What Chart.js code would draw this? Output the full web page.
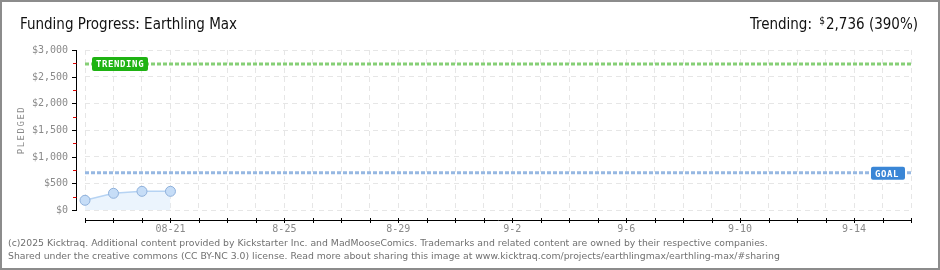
<!DOCTYPE html>
<html>
<head>
<meta charset="utf-8">
<script src="https://cdn.jsdelivr.net/npm/chart.js@4"></script>
<style>
  html, body { margin: 0; padding: 0; background: #fff; }
  #wrap { width: 940px; height: 270px; }
</style>
</head>
<body>
<div id="wrap"><canvas id="myChart" width="940" height="270"></canvas></div>
<script>
// donnees
const days = ['8-18', '8-19', '8-20', '8-21', '8-22', '8-23', '8-24', '8-25', '8-26', '8-27', '8-28',
  '8-29', '8-30', '8-31', '9-1', '9-2', '9-3', '9-4', '9-5', '9-6', '9-7', '9-8', '9-9', '9-10',
  '9-11', '9-12', '9-13', '9-14', '9-15', '9-16'];
const pledged = [182, 313, 350, 350];
const goal = 700;
const trending = 2736;
const yTicks = [0, 500, 1000, 1500, 2000, 2500, 3000];
const yTickLabels = ['$0', '$500', '$1,000', '$1,500', '$2,000', '$2,500', '$3,000'];
const yMinorTicks = [250, 750, 1250, 1750, 2250, 2750];
const xTickDays = ['8-21', '8-25', '8-29', '9-2', '9-6', '9-10', '9-14'];
const xTickLabels = ['08-21', '8-25', '8-29', '9-2', '9-6', '9-10', '9-14'];

const titleText = 'Funding Progress: Earthling Max';
const footer1 = '(c)2025 Kicktraq. Additional content provided by Kickstarter Inc. and MadMooseComics. Trademarks and related content are owned by their respective companies.';
const footer2 = 'Shared under the creative commons (CC BY-NC 3.0) license. Read more about sharing this image at www.kicktraq.com/projects/earthlingmax/earthling-max/#sharing';

const pixFont = '"DejaVu Sans Mono", monospace';

function dashedLine(ctx, area, y, color) {
    ctx.save();
    ctx.lineWidth = 3;
    ctx.strokeStyle = color;
    ctx.setLineDash([4, 2]);
    ctx.beginPath();
    ctx.moveTo(area.left, y);
    ctx.lineTo(area.right, y);
    ctx.stroke();
    ctx.restore();
}

function tagBox(ctx, x, y, w, h, bg, text) {
    ctx.save();
    ctx.fillStyle = bg;
    ctx.beginPath();
    ctx.roundRect(x, y, w, h, 2);
    ctx.fill();
    ctx.fillStyle = '#fff';
    ctx.font = 'bold 9px ' + pixFont;
    ctx.textBaseline = 'middle';
    ctx.textAlign = 'left';
    ctx.letterSpacing = '0.6px';
    ctx.fillText(text, x + 4, y + h / 2 + 1);
    ctx.restore();
}

const decor = {
    id: 'decor',
    beforeDraw(chart) {
        const ctx = chart.ctx;
        ctx.save();
        ctx.fillStyle = '#fff';
        ctx.fillRect(0, 0, chart.width, chart.height);
        ctx.restore();
    },
    beforeDatasetsDraw(chart) {
        const ctx = chart.ctx;
        const area = chart.chartArea;
        const y = chart.scales.y;
        dashedLine(ctx, area, y.getPixelForValue(trending), '#86cf76');
        dashedLine(ctx, area, y.getPixelForValue(goal), '#96b8e2');
    },
    afterDraw(chart) {
        const ctx = chart.ctx;
        const area = chart.chartArea;
        const xs = chart.scales.x;
        const ys = chart.scales.y;
        ctx.save();

        // axe Y
        const axX = area.left - 9;
        ctx.strokeStyle = '#000';
        ctx.lineWidth = 1;
        ctx.beginPath();
        ctx.moveTo(axX + 0.5, ys.getPixelForValue(3000));
        ctx.lineTo(axX + 0.5, ys.getPixelForValue(0) + 1);
        ctx.stroke();
        yTicks.forEach(function (v, i) {
            const py = Math.round(ys.getPixelForValue(v)) + 0.5;
            ctx.strokeStyle = '#000';
            ctx.beginPath();
            ctx.moveTo(axX - 4, py);
            ctx.lineTo(axX + 1, py);
            ctx.stroke();
            ctx.fillStyle = '#8a8a8a';
            ctx.font = '10px ' + pixFont;
            ctx.textAlign = 'right';
            ctx.textBaseline = 'middle';
            ctx.fillText(yTickLabels[i], axX - 8, py);
        });
        yMinorTicks.forEach(function (v) {
            const py = Math.round(ys.getPixelForValue(v)) + 0.5;
            ctx.strokeStyle = '#e00000';
            ctx.beginPath();
            ctx.moveTo(axX - 3, py);
            ctx.lineTo(axX + 0.5, py);
            ctx.stroke();
        });

        // titre axe Y
        ctx.save();
        ctx.translate(22, (area.top + area.bottom) / 2);
        ctx.rotate(-Math.PI / 2);
        ctx.fillStyle = '#8a8a8a';
        ctx.font = '9px ' + pixFont;
        ctx.letterSpacing = '1.5px';
        ctx.textAlign = 'center';
        ctx.textBaseline = 'middle';
        ctx.fillText('PLEDGED', 0, 0);
        ctx.restore();

        // axe X
        const axY = area.bottom + 10;
        ctx.strokeStyle = '#000';
        ctx.beginPath();
        ctx.moveTo(area.left, axY + 0.5);
        ctx.lineTo(area.right + 1, axY + 0.5);
        ctx.stroke();
        days.forEach(function (d, i) {
            const px = Math.round(xs.getPixelForValue(i)) + 0.5;
            ctx.beginPath();
            ctx.moveTo(px, axY - 2);
            ctx.lineTo(px, axY + 3);
            ctx.stroke();
        });
        xTickDays.forEach(function (d, i) {
            const px = xs.getPixelForValue(days.indexOf(d));
            ctx.fillStyle = '#8a8a8a';
            ctx.font = '10px ' + pixFont;
            ctx.textAlign = 'center';
            ctx.textBaseline = 'middle';
            ctx.fillText(xTickLabels[i], px, axY + 9);
        });

        // etiquettes TRENDING / GOAL
        tagBox(ctx, area.left + 7, ys.getPixelForValue(trending) - 7, 56, 14, '#1fb313', 'TRENDING');
        tagBox(ctx, area.right - 40, ys.getPixelForValue(goal) - 6, 34, 13, '#3a86d6', 'GOAL');

        // titre
        ctx.fillStyle = '#111';
        ctx.font = '15px "DejaVu Sans Condensed", "DejaVu Sans", sans-serif';
        ctx.textAlign = 'left';
        ctx.textBaseline = 'alphabetic';
        ctx.fillText(titleText, 20, 29);

        // texte trending a droite
        const right = 918;
        const part2 = '2,736 (390%)';
        const w2 = ctx.measureText(part2).width;
        ctx.fillText(part2, right - w2, 29);
        ctx.font = '10px "DejaVu Sans Condensed", "DejaVu Sans", sans-serif';
        const wd = ctx.measureText('$').width;
        ctx.fillText('$', right - w2 - wd - 1, 24);
        ctx.font = '15px "DejaVu Sans Condensed", "DejaVu Sans", sans-serif';
        const w1 = ctx.measureText('Trending: ').width;
        ctx.fillText('Trending: ', right - w2 - wd - 4 - w1, 29);

        // pied de page
        ctx.fillStyle = '#707070';
        ctx.font = '9.3px "DejaVu Sans", sans-serif';
        ctx.fillText(footer1, 8, 246);
        ctx.fillText(footer2, 8, 259);

        // cadre
        ctx.strokeStyle = '#8c8c8c';
        ctx.lineWidth = 2;
        ctx.strokeRect(1, 1, chart.width - 2, chart.height - 2);
        ctx.restore();
    }
};

const ctx = document.getElementById('myChart').getContext('2d');
const myChart = new Chart(ctx, {
    type: 'line',
    data: {
        labels: days,
        datasets: [{
            label: 'Pledged',
            data: pledged,
            borderColor: '#b6d3f3',
            borderWidth: 1.5,
            backgroundColor: '#ebf4fd',
            fill: 'origin',
            tension: 0,
            pointRadius: 5,
            pointBackgroundColor: '#c6ddf7',
            pointBorderColor: '#8fb1dc',
            pointBorderWidth: 1,
        }]
    },
    options: {
        responsive: false,
        animation: false,
        devicePixelRatio: 1,
        layout: {
            padding: { left: 85, right: 29, top: 50, bottom: 60 }
        },
        plugins: {
            legend: { display: false },
            tooltip: { enabled: false }
        },
        scales: {
            x: {
                type: 'category',
                offset: false,
                ticks: { display: false, autoSkip: false },
                grid: { color: '#e6e6e6', drawTicks: false },
                border: { display: false, dash: [5, 4] }
            },
            y: {
                min: 0,
                max: 3000,
                ticks: { display: false, stepSize: 500 },
                grid: { color: '#e6e6e6', drawTicks: false },
                border: { display: false, dash: [5, 4] }
            }
        }
    },
    plugins: [decor]
});
</script>
</body>
</html>
